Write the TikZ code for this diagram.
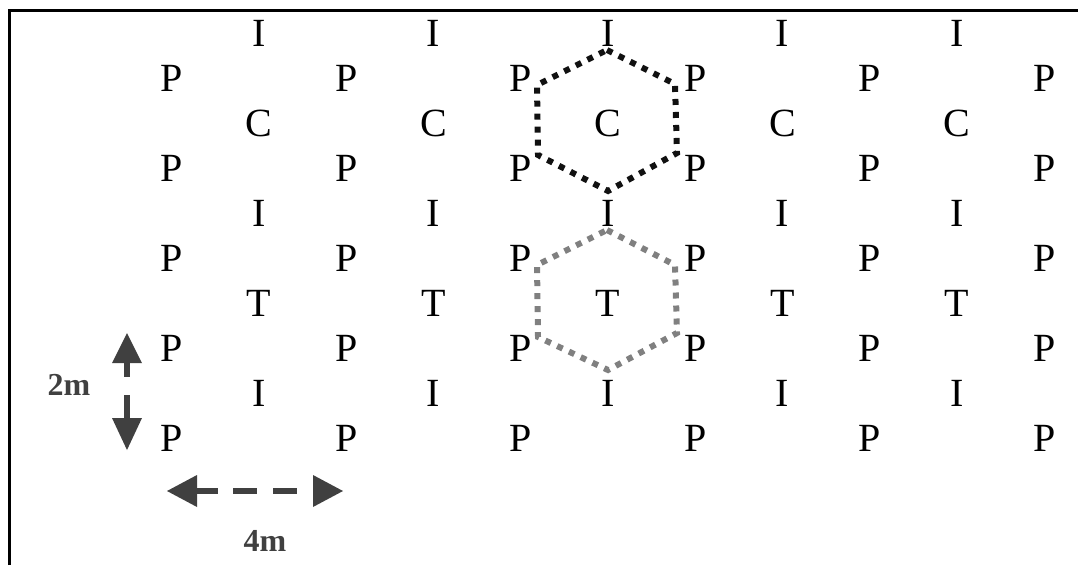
\documentclass[tikz,border=0pt]{standalone}
\usepackage{fontspec}
\setmainfont{Liberation Serif}
\definecolor{arrowgray}{HTML}{404040}
\definecolor{hexgray}{HTML}{808080}
\definecolor{hexblack}{HTML}{111111}
\begin{document}
\begin{tikzpicture}[x=1pt,y=-1pt,
  letter/.style={inner sep=0pt,font=\fontsize{40}{48}\selectfont},
  scalelabel/.style={inner sep=0pt,text=arrowgray,font=\fontsize{32}{38}\selectfont\bfseries},
  scaleshaft/.style={draw=arrowgray,line width=6pt},
  scalehead/.style={fill=arrowgray},
  hexline/.style={line width=6pt,dash pattern=on 6pt off 7pt}]
\useasboundingbox (0,0) rectangle (1078,565);
\draw[line width=3pt] (9,565) -- (9,10) -- (1078,10);

\foreach \r/\y/\L in {0/33/I,2/123/C,4/213/I,6/303/T,8/393/I}
  \foreach \c in {0,...,4}
    \node[letter] (n\r-\c) at ({259+174.5*\c},\y) {\L};
\foreach \r/\y in {1/78,3/168,5/258,7/348,9/438}
  \foreach \c in {0,...,5}
    \node[letter] (n\r-\c) at ({172+174.5*\c},\y) {P};

% hexagon around C
\coordinate (h1a) at (607,50);
\coordinate (h1b) at (675,84);
\coordinate (h1c) at (677,153);
\coordinate (h1d) at (608,191);
\coordinate (h1e) at (538,155);
\coordinate (h1f) at (537,85);
\draw[hexline,hexblack] (h1a) -- (h1b) -- (h1c) -- (h1d) -- (h1e) -- (h1f) -- cycle;

% hexagon around T
\coordinate (h2a) at (607,230);
\coordinate (h2b) at (675,265);
\coordinate (h2c) at (677,333);
\coordinate (h2d) at (608,370);
\coordinate (h2e) at (538,337);
\coordinate (h2f) at (537,265);
\draw[hexline,hexgray] (h2a) -- (h2b) -- (h2c) -- (h2d) -- (h2e) -- (h2f) -- cycle;

% vertical scale arrow (2m)
\coordinate (vt) at (127,333);
\coordinate (vtb) at (127,363);
\coordinate (vbb) at (127,418);
\coordinate (vb) at (127,450);
\draw[scaleshaft,dash pattern=on 14pt off 18pt on 40pt off 0pt] (vtb) -- (vbb);
\fill[scalehead] (vt) -- ([xshift=15pt]vtb) -- ([xshift=-15pt]vtb) -- cycle;
\fill[scalehead] (vb) -- ([xshift=15pt]vbb) -- ([xshift=-15pt]vbb) -- cycle;

% horizontal scale arrow (4m)
\coordinate (hl) at (167,491);
\coordinate (hlb) at (197,491);
\coordinate (hrb) at (313,491);
\coordinate (hr) at (343,491);
\draw[scaleshaft,dash pattern=on 21pt off 15pt on 24pt off 16pt on 24pt off 40pt] (hlb) -- (hrb);
\fill[scalehead] (hl) -- ([yshift=16pt]hlb) -- ([yshift=-16pt]hlb) -- cycle;
\fill[scalehead] (hr) -- ([yshift=16pt]hrb) -- ([yshift=-16pt]hrb) -- cycle;

\node[scalelabel] (l2m) at (69,385) {2m};
\node[scalelabel] (l4m) at (265,541) {4m};
\end{tikzpicture}
\end{document}
